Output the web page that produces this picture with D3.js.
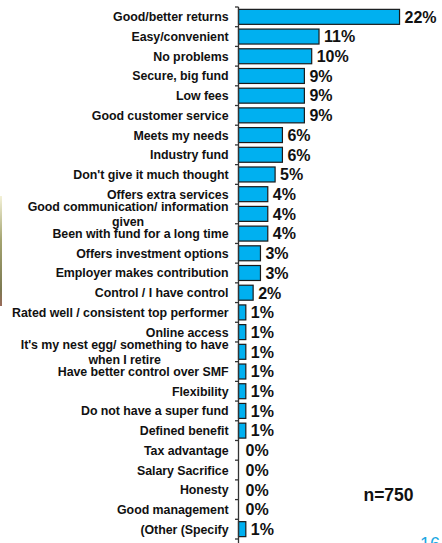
<!DOCTYPE html>
<html>
<head>
<meta charset="utf-8">
<script src="https://cdn.jsdelivr.net/npm/d3@7/dist/d3.min.js"></script>
<style>
  html, body { margin: 0; padding: 0; background: #fff; }
  svg { display: block; }
  text { font-family: "Liberation Sans", Arial, sans-serif; font-weight: bold; fill: #111; }
</style>
</head>
<body>
<script>
// Reasons for staying with current super fund (% of respondents)
const categories = [
  ["Good/better returns"],
  ["Easy/convenient"],
  ["No problems"],
  ["Secure, big fund"],
  ["Low fees"],
  ["Good customer service"],
  ["Meets my needs"],
  ["Industry fund"],
  ["Don't give it much thought"],
  ["Offers extra services"],
  ["Good communication/ information", "given"],
  ["Been with fund for a long time"],
  ["Offers investment options"],
  ["Employer makes contribution"],
  ["Control / I have control"],
  ["Rated well / consistent top performer"],
  ["Online access"],
  ["It's my nest egg/ something to have", "when I retire"],
  ["Have better control over SMF"],
  ["Flexibility"],
  ["Do not have a super fund"],
  ["Defined benefit"],
  ["Tax advantage"],
  ["Salary Sacrifice"],
  ["Honesty"],
  ["Good management"],
  ["(Other (Specify"]
];
const values = [22, 11, 10, 9, 9, 9, 6, 6, 5, 4, 4, 4, 3, 3, 2, 1, 1, 1, 1, 1, 1, 1, 0, 0, 0, 0, 1];
const sampleNote = "n=750";
const pageNumber = "16";

const W = 442, H = 543;
const svg = d3.select("body").append("svg").attr("width", W).attr("height", H);

// faint edge strip of the slide background
const grad = svg.append("defs").append("linearGradient")
  .attr("id", "edge").attr("x1", 0).attr("x2", 0).attr("y1", 0).attr("y2", 1);
grad.append("stop").attr("offset", "0%").attr("stop-color", "#f4f2d8");
grad.append("stop").attr("offset", "40%").attr("stop-color", "#a4a470");
grad.append("stop").attr("offset", "85%").attr("stop-color", "#7c7a52");
grad.append("stop").attr("offset", "100%").attr("stop-color", "#9a6a5a");
svg.append("rect").attr("x", 0).attr("y", 196).attr("width", 2).attr("height", 110)
  .attr("fill", "url(#edge)");

const axisX = 238.5;
const x = d3.scaleLinear().domain([0, 25]).range([axisX, axisX + 183]);
const y = d3.scaleBand().domain(d3.range(categories.length))
  .range([7, 539]).paddingInner(0.24).paddingOuter(0.12);

// bars
svg.append("g").selectAll("rect").data(values).join("rect")
  .attr("x", x(0))
  .attr("y", (d, i) => y(i))
  .attr("width", d => x(d) - x(0))
  .attr("height", y.bandwidth())
  .attr("fill", "#00b0f0")
  .attr("stroke", d => d > 0 ? "#1a1a1a" : "none")
  .attr("stroke-width", 1.2);

// category axis: line with ticks at band boundaries
const boundaries = d3.range(categories.length + 1).map(i => 7 + i * (532 / categories.length));
const ax = svg.append("g");
ax.append("line").attr("x1", axisX).attr("x2", axisX)
  .attr("y1", boundaries[0]).attr("y2", H)
  .attr("stroke", "#333").attr("stroke-width", 1.3);
ax.selectAll("line.tick").data(boundaries).join("line").attr("class", "tick")
  .attr("x1", axisX - 3.5).attr("x2", axisX)
  .attr("y1", d => d).attr("y2", d => d)
  .attr("stroke", "#333").attr("stroke-width", 1.3);

// category labels (multi-line labels centred as a block)
const labelRight = 228.5;
const fs = 12.4, lh = 14.6;
const labels = svg.append("g");
categories.forEach((lines, i) => {
  const cy = y(i) + y.bandwidth() / 2;
  if (lines.length === 1) {
    labels.append("text")
      .attr("x", labelRight).attr("y", cy + fs * 0.36)
      .attr("text-anchor", "end")
      .attr("font-size", fs).attr("letter-spacing", -0.05)
      .text(lines[0]);
  } else {
    const t = labels.append("text")
      .attr("font-size", fs).attr("letter-spacing", -0.05)
      .attr("text-anchor", "middle");
    t.text(lines[0]);
    const wid = t.node().getComputedTextLength();
    const cx = labelRight - wid / 2;
    t.text(null);
    lines.forEach((ln, k) => {
      t.append("tspan").attr("x", cx)
        .attr("y", cy + fs * 0.36 + (k - (lines.length - 1) / 2) * lh)
        .text(ln);
    });
  }
});

// value labels
svg.append("g").selectAll("text").data(values).join("text")
  .attr("x", d => x(d) + (d > 0 ? 5 : 7))
  .attr("y", (d, i) => y(i) + y.bandwidth() / 2 + 5.8)
  .attr("font-size", 16)
  .text(d => d + "%");

svg.append("text")
  .attr("x", 388.5).attr("y", 500.5)
  .attr("text-anchor", "middle")
  .attr("font-size", 17.5)
  .text(sampleNote);

svg.append("text")
  .attr("x", 420).attr("y", 550)
  .attr("font-size", 18)
  .style("font-weight", "normal")
  .style("fill", "#1aa7e2")
  .text(pageNumber);
</script>
</body>
</html>
